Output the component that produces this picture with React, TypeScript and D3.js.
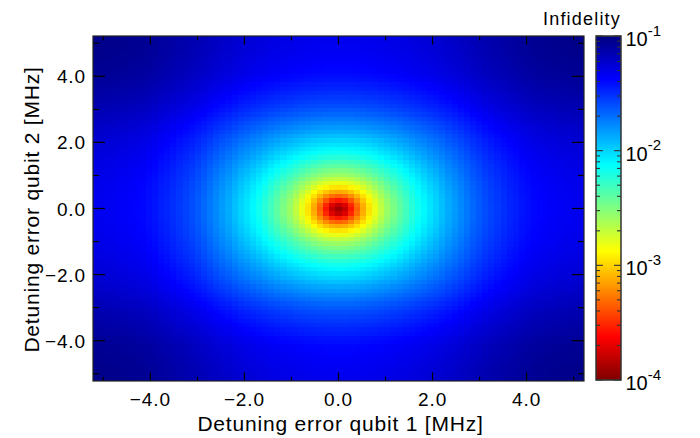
import React from 'react';
import * as d3 from 'd3';

// grid step of the scan (MHz), 81 x 81 cells from -5.2 to 5.2
const detuningStep = 0.13;
const gridIndex = d3.range(-40, 41);

// log10 infidelity read along the centre row (other qubit at 0), index = |k|
const profileLog10 = [
  -3.90, -3.80, -3.56, -3.33, -3.13, -2.96, -2.82, -2.69, -2.58, -2.49,
  -2.40, -2.32, -2.24, -2.17, -2.11, -2.05, -2.00, -1.94, -1.88, -1.83,
  -1.78, -1.73, -1.68, -1.64, -1.60, -1.57, -1.54, -1.51, -1.48, -1.46,
  -1.43, -1.41, -1.39, -1.38, -1.37, -1.36, -1.35, -1.34, -1.34, -1.33,
  -1.33
];

const majorTicks = [-4, -2, 0, 2, 4];
const minorTicks = [-5, -3, -1, 1, 3, 5];
const cbarDecades = [1e-1, 1e-2, 1e-3, 1e-4];
const cbarExponents = ['-1', '-2', '-3', '-4'];

const jetStops = [0, 0.125, 0.375, 0.625, 0.875, 1];
const jetColors = ['#00007f', '#0000ff', '#00ffff', '#ffff00', '#ff0000', '#7f0000'];

const FONT = "'Liberation Sans', Arial, Helvetica, sans-serif";

export default function App() {
  const W = 700, H = 438;
  const left = 93, right = 584, top = 36, bottom = 381;

  const x = d3.scaleLinear().domain([-5.22, 5.22]).range([left, right]);
  const y = d3.scaleLinear().domain([-5.22, 5.22]).range([bottom, top]);

  const jet = d3.scaleLinear<string>().domain(jetStops).range(jetColors).interpolate(d3.interpolateRgb);
  const t = d3.scaleLog().domain([1e-4, 1e-1]).range([1, 0]).clamp(true);
  const color = (v: number) => jet(t(v));

  const f = (k: number) => Math.pow(10, profileLog10[Math.abs(k)]);
  const f0 = f(0);

  const cw = x(detuningStep) - x(0);
  const ch = y(0) - y(detuningStep);

  const cells: { i: number; j: number; v: number }[] = [];
  gridIndex.forEach(i => gridIndex.forEach(j => {
    cells.push({ i, j, v: f(i) + f(j) - f0 });
  }));

  // colorbar
  const cbX = 596, cbW = 25, cbTop = 36, cbBottom = 380;
  const cy = d3.scaleLog().domain([1e-4, 1e-1]).range([cbBottom, cbTop]);
  const cbRows = d3.range(cbTop, cbBottom, 1);
  const cbMinor: number[] = [];
  [1e-4, 1e-3, 1e-2].forEach(dec => d3.range(2, 10).forEach(m => cbMinor.push(dec * m)));

  const tickStroke = '#000';
  const xMaj = 8.6, xMin = 4.3, yMaj = 12, yMin = 6;

  return (
    <svg width={W} height={H} viewBox={`0 0 ${W} ${H}`}
      style={{ position: 'absolute', left: 0, top: 0, background: '#fff' }}>
      <defs>
        <clipPath id="plotClip">
          <rect x={left} y={top} width={right - left} height={bottom - top} />
        </clipPath>
      </defs>

      <g clipPath="url(#plotClip)" shapeRendering="crispEdges">
        {cells.map(c => (
          <rect key={`${c.i}_${c.j}`}
            x={x(c.i * detuningStep) - cw / 2}
            y={y(c.j * detuningStep) - ch / 2}
            width={cw + 0.6} height={ch + 0.6}
            fill={color(c.v)} />
        ))}
      </g>

      {/* ticks, inward on all four sides */}
      <g stroke={tickStroke} strokeWidth={1.2}>
        {majorTicks.map(v => (
          <g key={`xM${v}`}>
            <line x1={x(v)} x2={x(v)} y1={bottom} y2={bottom - xMaj} />
            <line x1={x(v)} x2={x(v)} y1={top} y2={top + xMaj} />
            <line x1={left} x2={left + yMaj} y1={y(v)} y2={y(v)} />
            <line x1={right} x2={right - yMaj} y1={y(v)} y2={y(v)} />
          </g>
        ))}
        {minorTicks.map(v => (
          <g key={`xm${v}`}>
            <line x1={x(v)} x2={x(v)} y1={bottom} y2={bottom - xMin} />
            <line x1={x(v)} x2={x(v)} y1={top} y2={top + xMin} />
            <line x1={left} x2={left + yMin} y1={y(v)} y2={y(v)} />
            <line x1={right} x2={right - yMin} y1={y(v)} y2={y(v)} />
          </g>
        ))}
      </g>
      <rect x={left} y={top} width={right - left} height={bottom - top}
        fill="none" stroke="#222" strokeWidth={1.2} />

      {/* tick labels */}
      <g fontFamily={FONT} fontSize={19} fill="#000" letterSpacing={0.9}>
        {majorTicks.map(v => (
          <text key={`xl${v}`} x={x(v)} y={405.5} textAnchor="middle">{d3.format('.1f')(v)}</text>
        ))}
        {majorTicks.map(v => (
          <text key={`yl${v}`} x={86} y={y(v) + 7} textAnchor="end">{d3.format('.1f')(v)}</text>
        ))}
      </g>

      {/* axis titles */}
      <text x={(left + right) / 2 + 2} y={431} textAnchor="middle" fontFamily={FONT}
        fontSize={21} letterSpacing={0.8} fill="#000">Detuning error qubit 1 [MHz]</text>
      <text transform={`translate(39, ${(top + bottom) / 2 + 1}) rotate(-90)`} textAnchor="middle"
        fontFamily={FONT} fontSize={21} letterSpacing={0.8} fill="#000">Detuning error qubit 2 [MHz]</text>

      {/* colorbar */}
      <g shapeRendering="crispEdges">
        {cbRows.map(r => (
          <rect key={`cb${r}`} x={cbX} y={r} width={cbW} height={1.2}
            fill={color(cy.invert(r + 0.5))} />
        ))}
      </g>
      <g stroke="#333" strokeWidth={1.1}>
        {cbarDecades.map(v => (
          <g key={`cM${v}`}>
            <line x1={cbX} x2={cbX + 7} y1={cy(v)} y2={cy(v)} />
            <line x1={cbX + cbW} x2={cbX + cbW - 7} y1={cy(v)} y2={cy(v)} />
          </g>
        ))}
        {cbMinor.map(v => (
          <g key={`cm${v}`}>
            <line x1={cbX} x2={cbX + 4} y1={cy(v)} y2={cy(v)} />
            <line x1={cbX + cbW} x2={cbX + cbW - 4} y1={cy(v)} y2={cy(v)} />
          </g>
        ))}
      </g>
      <rect x={cbX} y={cbTop} width={cbW} height={cbBottom - cbTop}
        fill="none" stroke="#333" strokeWidth={1.5} />

      <g fontFamily={FONT} fill="#000">
        {cbarDecades.map((v, i) => (
          <text key={`cl${v}`} x={625.5} y={cy(v) + 10} fontSize={20}>
            10<tspan fontSize={15} dy={-10.5}>{cbarExponents[i]}</tspan>
          </text>
        ))}
        <text x={582} y={25} textAnchor="middle" fontSize={18} letterSpacing={1.2}>Infidelity</text>
      </g>
    </svg>
  );
}
